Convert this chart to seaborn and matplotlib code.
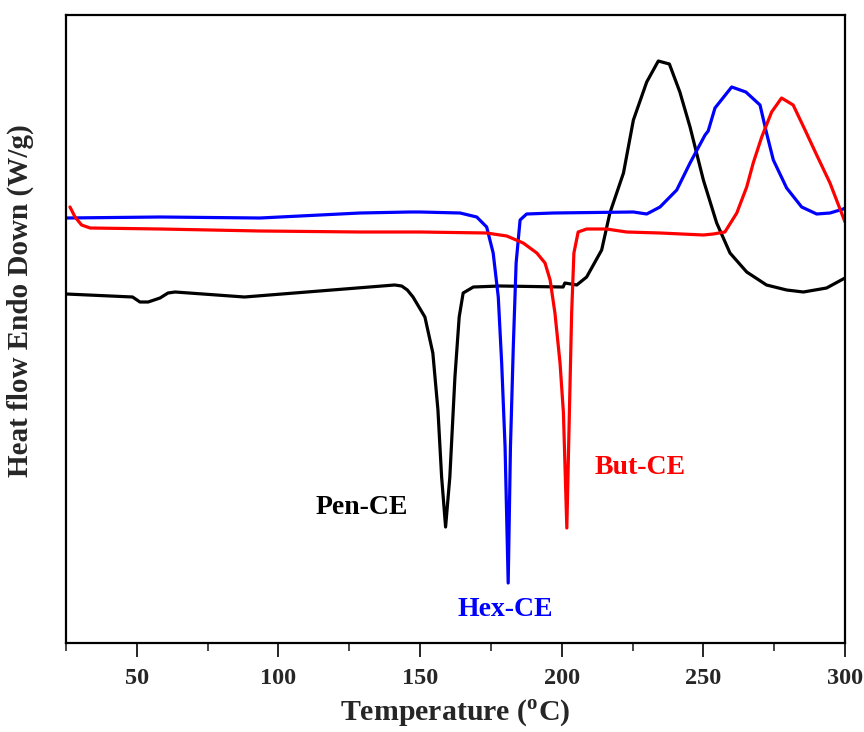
import numpy as np
import pandas as pd
import matplotlib
matplotlib.use("Agg")
import matplotlib.pyplot as plt
import seaborn as sns
from matplotlib.ticker import MultipleLocator

# ---- data (temperature in degC, heat flow in arbitrary units) ----
pen_T = [25, 48.5, 51.1, 54.0, 58.2, 61.0, 63.5, 88.0, 141.0, 143.5, 145.5, 147.5, 151.7, 154.5,
         156.3, 157.6, 159.0, 160.5, 162.3, 163.8, 165.2, 168.8, 178.2, 200.5, 201.1,
         205.3, 208.8, 214.1, 217.0, 221.8, 225.3, 230.0, 234.1, 238.0, 241.7, 245.3,
         250.0, 254.7, 259.4, 265.3, 272.3, 279.4, 285.3, 293.5, 300.0]
pen_H = [3.49, 3.46, 3.41, 3.41, 3.45, 3.50, 3.51, 3.46, 3.58, 3.57, 3.53, 3.46, 3.26, 2.90,
         2.33, 1.66, 1.16, 1.66, 2.66, 3.26, 3.50, 3.56, 3.57, 3.56, 3.60,
         3.58, 3.66, 3.93, 4.30, 4.70, 5.23, 5.61, 5.82, 5.79, 5.51, 5.16,
         4.63, 4.20, 3.90, 3.71, 3.58, 3.53, 3.51, 3.55, 3.65]

hex_T = [25, 58.2, 93.5, 128.8, 146.4, 150.0, 164.1, 170.0, 173.5, 175.8, 177.6,
         178.8, 180.0, 181.1, 181.9, 182.9, 183.9, 185.3, 187.6, 197.0, 225.3, 230.0,
         234.7, 240.6, 245.3, 250.6, 251.7, 254.1, 260.0, 265.0, 270.0, 272.3, 274.7,
         279.4, 284.7, 290.0, 294.7, 299.4, 300.0]
hex_H = [4.25, 4.26, 4.25, 4.30, 4.31, 4.31, 4.30, 4.26, 4.16, 3.90, 3.46,
         2.80, 1.96, 0.60, 1.96, 2.96, 3.80, 4.23, 4.29, 4.30, 4.31, 4.29,
         4.36, 4.53, 4.80, 5.08, 5.12, 5.35, 5.56, 5.51, 5.38, 5.10, 4.83,
         4.55, 4.36, 4.29, 4.30, 4.34, 4.35]

but_T = [26.4, 28.2, 30.5, 33.5, 58.2, 93.5, 128.8, 150.0, 173.5, 180.6, 186.4,
         191.2, 194.1, 195.9, 197.6, 199.4, 200.6, 201.8, 202.7, 203.5, 204.3, 205.8,
         208.8, 215.8, 222.9, 234.7, 250.0, 253.5, 257.6, 261.8, 265.3, 267.6, 270.6,
         274.1, 277.6, 281.7, 285.9, 290.0, 294.7, 300.0]
but_H = [4.36, 4.26, 4.18, 4.15, 4.14, 4.12, 4.11, 4.11, 4.10, 4.07, 4.00,
         3.90, 3.80, 3.63, 3.30, 2.80, 2.30, 1.15, 2.30, 3.30, 3.90, 4.11,
         4.14, 4.14, 4.11, 4.10, 4.08, 4.09, 4.11, 4.30, 4.56, 4.80, 5.06,
         5.31, 5.45, 5.38, 5.13, 4.88, 4.60, 4.21]

series_names = ["Pen-CE", "Hex-CE", "But-CE"]
series_colors = ["#000000", "#0000ff", "#ff0000"]
x_ticks = [50, 100, 150, 200, 250, 300]

df = pd.concat([
    pd.DataFrame({"T": pen_T, "H": pen_H, "sample": "Pen-CE"}),
    pd.DataFrame({"T": hex_T, "H": hex_H, "sample": "Hex-CE"}),
    pd.DataFrame({"T": but_T, "H": but_H, "sample": "But-CE"}),
], ignore_index=True)

sns.set_style("ticks")
plt.rcParams["font.family"] = ["Liberation Serif", "DejaVu Serif"]
plt.rcParams["font.weight"] = "bold"
plt.rcParams["mathtext.fontset"] = "custom"
plt.rcParams["mathtext.rm"] = "Liberation Serif:bold"
plt.rcParams["mathtext.bf"] = "Liberation Serif:bold"

fig = plt.figure(figsize=(8.64, 7.32), dpi=100)
ax = fig.add_axes([66/864, 89/732, 779/864, 628/732])

sns.lineplot(data=df, x="T", y="H", hue="sample", hue_order=series_names,
             palette=series_colors, estimator=None, sort=False, linewidth=2.3,
             legend=False, ax=ax)

ax.set_xlim(25, 300)
ax.set_ylim(0, 6.28)
ax.set_xticks(x_ticks)
ax.xaxis.set_minor_locator(MultipleLocator(25))
ax.set_yticks([])
ax.tick_params(axis="x", which="major", direction="out", length=10, width=1.4,
               labelsize=17.5, pad=8)
ax.tick_params(axis="x", which="minor", direction="out", length=6, width=1.2)
for lab in ax.get_xticklabels():
    lab.set_fontweight("bold")
for s in ax.spines.values():
    s.set_linewidth(1.6)
    s.set_visible(True)
    s.set_color("black")

ax.set_xlabel(r"Temperature ($^{\mathbf{o}}$C)", fontsize=21.5, fontweight="bold", labelpad=6)
ax.set_ylabel("Heat flow Endo Down (W/g)", fontsize=21, fontweight="bold")
ax.yaxis.set_label_coords(-0.041, 0.545)

label_pos = {"Pen-CE": (129.5, 1.36), "Hex-CE": (180.0, 0.33), "But-CE": (227.6, 1.76)}
for name, col in zip(series_names, series_colors):
    x, y = label_pos[name]
    ax.text(x, y, name, color=col, fontsize=20, fontweight="bold",
            ha="center", va="center")

fig.savefig("out.png", dpi=100)
